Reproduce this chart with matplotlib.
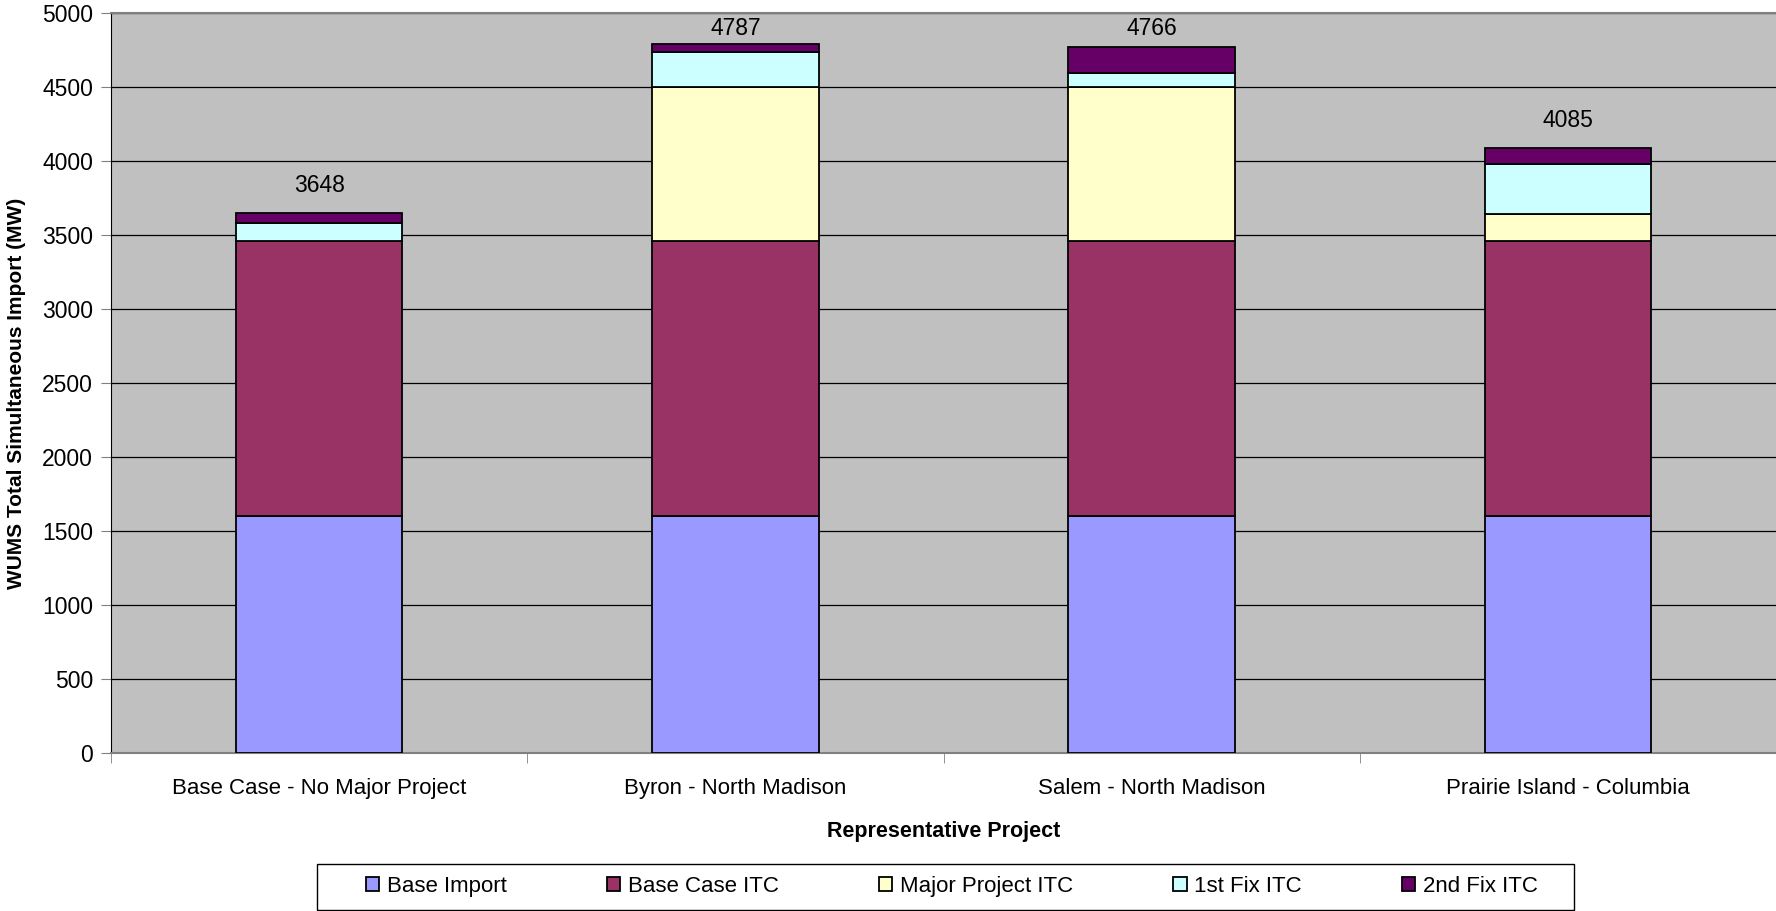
import matplotlib.pyplot as plt
from matplotlib.patches import Rectangle
import numpy as np

plt.rcParams['font.family'] = ['Liberation Sans', 'DejaVu Sans']

# Data
projects = ["Base Case - No Major Project", "Byron - North Madison",
            "Salem - North Madison", "Prairie Island - Columbia"]
base_import = np.array([1600, 1600, 1600, 1600])
base_case_itc = np.array([1860, 1860, 1860, 1860])
major_project_itc = np.array([0, 1040, 1035, 180])
fix1_itc = np.array([120, 232, 100, 335])
fix2_itc = np.array([68, 55, 171, 110])

series = [
    ("Base Import", base_import, "#9999FF"),
    ("Base Case ITC", base_case_itc, "#993366"),
    ("Major Project ITC", major_project_itc, "#FFFFCC"),
    ("1st Fix ITC", fix1_itc, "#CCFFFF"),
    ("2nd Fix ITC", fix2_itc, "#660066"),
]

fig = plt.figure(figsize=(17.76, 9.11), dpi=100)
ax = fig.add_axes([0.0625, 0.1734, 0.9375, 0.8128])
ax.set_facecolor("#C0C0C0")

x = np.arange(len(projects))
bottom = np.zeros(len(projects))
for name, vals, col in series:
    ax.bar(x, vals, 0.40, bottom=bottom, color=col, edgecolor="black",
           linewidth=1.3, label=name, zorder=3)
    bottom = bottom + vals

# totals above the bars (kept inside the plot area like Excel does)
for xi, total in zip(x, bottom):
    ax.text(xi, min(total + 185, 4890), f"{int(total)}", ha="center",
            va="center", fontsize=16.5)

ax.set_ylim(0, 5000)
ax.set_xlim(-0.5, 3.5)
ax.set_yticks(np.arange(0, 5001, 500))
ax.yaxis.grid(True, color="black", linewidth=0.9, zorder=0)
ax.set_axisbelow(True)

ax.set_xticks(x)
ax.set_xticklabels(projects, fontsize=16)
ax.set_xticks(np.arange(-0.5, 4.0, 1.0), minor=True)
ax.tick_params(axis="x", which="major", length=0, pad=18)
ax.tick_params(axis="x", which="minor", length=7, color="#808080")
ax.tick_params(axis="y", labelsize=16.5, length=7, color="#808080", pad=6)

for s in ["top", "bottom"]:
    ax.spines[s].set_color("#808080")
    ax.spines[s].set_linewidth(1.5)
ax.spines["left"].set_color("black")
ax.spines["right"].set_visible(False)

ax.set_xlabel("Representative Project", fontsize=15.5, fontweight="bold", labelpad=16)
ax.set_ylabel("WUMS Total Simultaneous Import (MW)", fontsize=15, fontweight="bold")
ax.yaxis.set_label_coords(-0.051, 0.486)

# legend box drawn separately so the inner padding looks like Excel's
fig.patches.append(Rectangle((0.1785, 0.0016), 0.7078, 0.05, transform=fig.transFigure,
                             facecolor="white", edgecolor="black", linewidth=1.0))
leg = fig.legend(*ax.get_legend_handles_labels(), loc="center",
                 bbox_to_anchor=(0.536, 0.0266), ncol=5, fontsize=16, frameon=False,
                 handlelength=0.6, handleheight=0.6, handletextpad=0.35,
                 columnspacing=4.5)

fig.savefig("out.png", dpi=100)
